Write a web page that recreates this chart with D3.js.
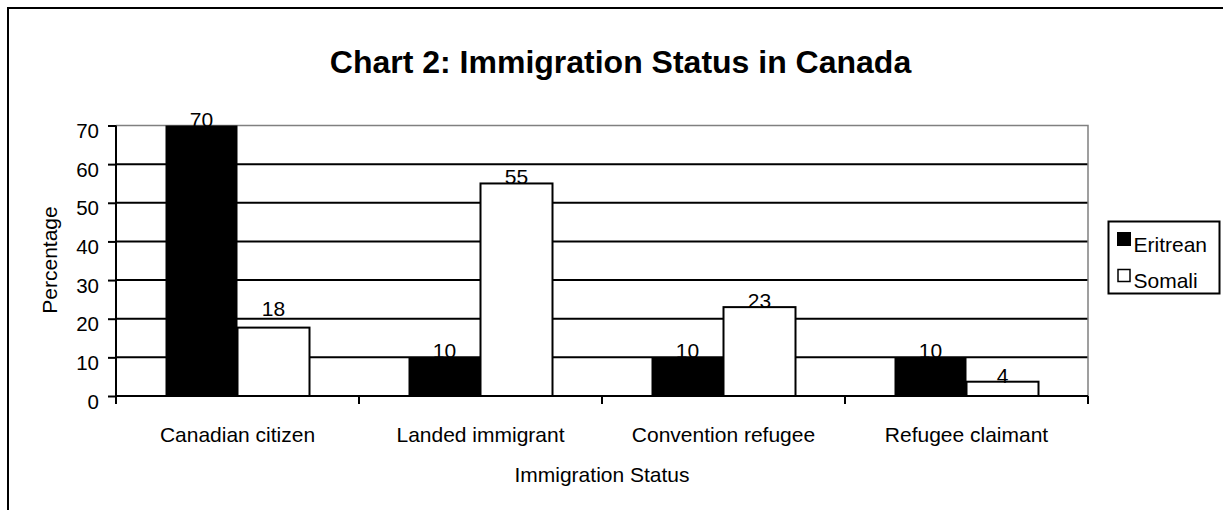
<!DOCTYPE html>
<html>
<head>
<meta charset="utf-8">
<script src="https://cdn.jsdelivr.net/npm/d3@7"></script>
<style>
  html, body { margin: 0; padding: 0; background: #fff; }
  svg { display: block; }
  text { font-family: "Liberation Sans", Arial, sans-serif; fill: #000; }
</style>
</head>
<body>
<svg id="chart" width="1223" height="510"></svg>
<script>
const categories = ["Canadian citizen", "Landed immigrant", "Convention refugee", "Refugee claimant"];
const seriesNames = ["Eritrean", "Somali"];
const eritrean = [70, 10, 10, 10];
const somali = [17.7, 55, 23, 3.7];
const yTicks = [0, 10, 20, 30, 40, 50, 60, 70];
const titleText = "Chart 2: Immigration Status in Canada";
const xTitle = "Immigration Status";
const yTitle = "Percentage";

const seriesValues = [eritrean, somali];
const fills = ["#000", "#fff"];

const svg = d3.select("#chart");
const W = 1223, H = 510;
const plot = { left: 116, right: 1088, top: 125.5, bottom: 396 };

// Outer chart border
svg.append("path")
  .attr("d", `M8,${H + 5} L8,8 L${W + 5},8`)
  .attr("fill", "none").attr("stroke", "#000").attr("stroke-width", 2);

const x0 = d3.scaleBand().domain(categories).range([plot.left, plot.right]).padding(0);
const x1 = d3.scaleBand().domain(seriesNames).range([0, x0.bandwidth()]).paddingInner(0).paddingOuter(0.6875);
const y = d3.scaleLinear().domain([0, 70]).range([plot.bottom, plot.top]);

// Gridlines
svg.append("g").selectAll("line").data(yTicks.filter(t => t > 0 && t < 70)).join("line")
  .attr("x1", plot.left).attr("x2", plot.right)
  .attr("y1", d => y(d)).attr("y2", d => y(d))
  .attr("stroke", "#000").attr("stroke-width", 2);

// Plot border top/right (gray)
svg.append("path")
  .attr("d", `M${plot.left},${y(70)} L${plot.right},${y(70)} L${plot.right},${plot.bottom}`)
  .attr("fill", "none").attr("stroke", "#808080").attr("stroke-width", 1.5);

// Bars
const groups = svg.append("g").selectAll("g").data(categories).join("g")
  .attr("transform", d => `translate(${x0(d)},0)`);
seriesNames.forEach((s, si) => {
  groups.append("rect")
    .attr("x", x1(s))
    .attr("y", (d, i) => y(seriesValues[si][i]))
    .attr("width", x1.bandwidth())
    .attr("height", (d, i) => plot.bottom - y(seriesValues[si][i]))
    .attr("fill", fills[si])
    .attr("stroke", si === 1 ? "#000" : "none")
    .attr("stroke-width", 2);
});

// Value labels
seriesNames.forEach((s, si) => {
  groups.append("text")
    .attr("x", x1(s) + x1.bandwidth() / 2)
    .attr("y", (d, i) => {
      let yy = y(seriesValues[si][i]) + 1;
      if (si === 1 && i === 0) yy -= 13; // label nudged up as in reference
      return yy;
    })
    .attr("text-anchor", "middle")
    .attr("font-size", 21)
    .text((d, i) => Math.round(seriesValues[si][i]));
});

// Y axis
const yAxis = d3.axisLeft(y).tickValues(yTicks).tickSize(8).tickPadding(9).tickFormat(d3.format("d"));
const gy = svg.append("g").attr("transform", `translate(${plot.left},0)`).call(yAxis);
gy.select(".domain").attr("stroke", "#000").attr("stroke-width", 2).attr("d", `M0,${plot.bottom + 8}V${plot.top}`);
gy.selectAll(".tick line").attr("stroke", "#000").attr("stroke-width", 2);
gy.selectAll(".tick text").attr("font-size", 20.5).attr("dy", "12px")
  .attr("font-family", '"Liberation Sans", Arial, sans-serif').attr("fill", "#000");

// X axis
const xAxis = d3.axisBottom(x0).tickSize(0).tickPadding(0);
const gx = svg.append("g").attr("transform", `translate(0,${plot.bottom})`).call(xAxis);
gx.select(".domain").attr("stroke", "#000").attr("stroke-width", 2).attr("d", `M${plot.left},0H${plot.right}`);
gx.selectAll(".tick text").attr("font-size", 21).attr("y", 46).attr("dy", 0)
  .attr("font-family", '"Liberation Sans", Arial, sans-serif').attr("fill", "#000");
// category boundary ticks
const bounds = categories.map(c => x0(c)).concat([plot.right]);
gx.append("g").selectAll("line").data(bounds).join("line")
  .attr("x1", d => d).attr("x2", d => d).attr("y1", 0).attr("y2", 8)
  .attr("stroke", "#000").attr("stroke-width", 2);

// Title
svg.append("text").attr("x", 620.5).attr("y", 72.5).attr("text-anchor", "middle")
  .attr("font-size", 32).attr("font-weight", "bold").text(titleText);

// Axis titles
svg.append("text").attr("x", 602).attr("y", 482).attr("text-anchor", "middle")
  .attr("font-size", 21).text(xTitle);
svg.append("text").attr("transform", "translate(57,260) rotate(-90)").attr("text-anchor", "middle")
  .attr("font-size", 21).text(yTitle);

// Legend
const lg = svg.append("g");
lg.append("rect").attr("x", 1108.5).attr("y", 221.5).attr("width", 111).attr("height", 72)
  .attr("fill", "#fff").attr("stroke", "#000").attr("stroke-width", 2);
const legendRows = [252, 288];
seriesNames.forEach((s, si) => {
  if (si === 0) {
    lg.append("rect").attr("x", 1117).attr("y", 232).attr("width", 14).attr("height", 14).attr("fill", "#000");
  } else {
    lg.append("rect").attr("x", 1118).attr("y", 269.5).attr("width", 12).attr("height", 12)
      .attr("fill", "#fff").attr("stroke", "#000").attr("stroke-width", 1.5);
  }
  lg.append("text").attr("x", 1133.5).attr("y", legendRows[si]).attr("font-size", 21).text(s);
});
</script>
</body>
</html>
